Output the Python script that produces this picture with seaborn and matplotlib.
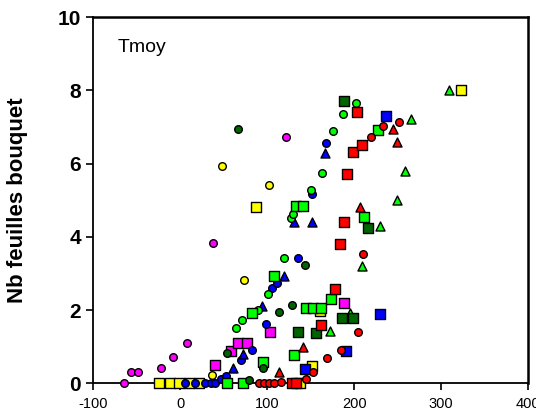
import matplotlib
matplotlib.use("Agg")
import matplotlib.pyplot as plt
import seaborn as sns
import pandas as pd

# ---------------- data (x = Tmoy sum, y = Nb feuilles bouquet) ----------------
magenta_circ_x = [-64.5, -57, -48.4, -21.8, -8.4, 8.2, 37.4, 121.7]
magenta_circ_y = [0, 0.31, 0.31, 0.41, 0.71, 1.11, 3.83, 6.73]
magenta_sq_x = [39.7, 57.9, 66.3, 76.7, 103.5, 188.3]
magenta_sq_y = [0.5, 0.88, 1.09, 1.09, 1.39, 2.18]

yellow_sq_x = [-24, -12, -1, 10.5, 21.2, 137.7, 152, 160.6, 87, 322.5]
yellow_sq_y = [0, 0, 0, 0, 0, 0, 0.48, 1.97, 4.82, 8.0]
yellow_circ_x = [36.6, 73.2, 48.2, 102.4]
yellow_circ_y = [0.22, 2.82, 5.94, 5.41]

blue_circ_x = [5, 17, 29, 35, 40.5, 47, 53, 70.5, 82.8, 98.6, 105.3, 110.8, 135.5, 152, 168]
blue_circ_y = [0, 0, 0, 0, 0, 0.12, 0.19, 0.63, 0.9, 1.62, 2.61, 2.73, 3.43, 5.16, 6.55]
blue_tri_x = [61.2, 72.6, 94.3, 119.2, 131, 152, 166.7]
blue_tri_y = [0.42, 0.8, 2.1, 2.92, 4.4, 4.4, 6.28]
blue_sq_x = [143.5, 190.6, 230, 236.8]
blue_sq_y = [0.4, 0.89, 1.89, 7.3]

green_circ_x = [64.7, 71.3, 89.5, 101.2, 119.8, 127.8, 129.8, 151, 163.6, 176.3, 186.7, 202]
green_circ_y = [1.52, 1.73, 2.0, 2.43, 3.43, 4.52, 4.62, 5.27, 5.73, 6.89, 7.34, 7.64]
green_sq_x = [54, 72.2, 95, 82.8, 107.5, 131.3, 133.5, 141.8, 144.5, 152.5, 162.5, 173.3, 211.5, 228]
green_sq_y = [0, 0, 0.59, 1.93, 2.92, 0.78, 4.84, 4.84, 2.05, 2.05, 2.06, 2.29, 4.53, 6.91]
green_tri_x = [172.5, 195.6, 208.7, 229.5, 249, 259, 266, 309]
green_tri_y = [1.42, 1.92, 3.2, 4.3, 5.0, 5.79, 7.22, 8.02]

dkgreen_circ_x = [54, 79, 95.8, 113.5, 128.4, 144, 66.3]
dkgreen_circ_y = [0.83, 0.1, 0.43, 1.94, 2.13, 3.23, 6.93]
dkgreen_sq_x = [135.6, 156.5, 185.6, 198.3, 215.6, 188]
dkgreen_sq_y = [1.39, 1.38, 1.78, 1.78, 4.24, 7.7]

red_circ_x = [90.5, 96.3, 102, 108, 115.6, 144.5, 153.2, 168.3, 184.8, 204, 209.8, 219.5, 233, 252]
red_circ_y = [0, 0, 0, 0, 0.03, 0.13, 0.31, 0.70, 0.92, 1.41, 3.53, 6.73, 7.03, 7.14]
red_sq_x = [129, 133, 161.8, 178, 183.7, 188, 191.8, 198.7, 209, 203]
red_sq_y = [0, 0, 1.58, 2.57, 3.80, 4.39, 5.71, 6.31, 6.51, 7.41]
red_tri_x = [114, 141.3, 206.4, 245, 249]
red_tri_y = [0.31, 1.0, 4.81, 6.93, 6.59]

x_ticks = [-100, 0, 100, 200, 300, 400]
y_ticks = [0, 2, 4, 6, 8, 10]

series = [
    ("magenta", "o", magenta_circ_x, magenta_circ_y),
    ("magenta", "s", magenta_sq_x, magenta_sq_y),
    ("yellow", "o", yellow_circ_x, yellow_circ_y),
    ("yellow", "s", yellow_sq_x, yellow_sq_y),
    ("blue", "o", blue_circ_x, blue_circ_y),
    ("blue", "^", blue_tri_x, blue_tri_y),
    ("blue", "s", blue_sq_x, blue_sq_y),
    ("lime", "o", green_circ_x, green_circ_y),
    ("lime", "s", green_sq_x, green_sq_y),
    ("lime", "^", green_tri_x, green_tri_y),
    ("dkgreen", "o", dkgreen_circ_x, dkgreen_circ_y),
    ("dkgreen", "s", dkgreen_sq_x, dkgreen_sq_y),
    ("red", "o", red_circ_x, red_circ_y),
    ("red", "s", red_sq_x, red_sq_y),
    ("red", "^", red_tri_x, red_tri_y),
]
colors = {"magenta": "#FF00FF", "yellow": "#FFFF00", "blue": "#0000FF",
          "lime": "#00FF00", "dkgreen": "#006400", "red": "#FF0000"}
sizes = {"o": 30, "s": 52, "^": 42}

sns.set_style("ticks")
plt.rcParams["font.family"] = ["Liberation Sans", "DejaVu Sans"]
plt.rcParams["text.color"] = "black"
plt.rcParams["axes.labelcolor"] = "black"
plt.rcParams["xtick.color"] = "black"
plt.rcParams["ytick.color"] = "black"

fig = plt.figure(figsize=(5.36, 4.15), dpi=100)
ax = fig.add_axes([0.174, 0.0764, 0.811, 0.8826])

for col, mk, xs, ys in series:
    df = pd.DataFrame({"x": xs, "y": ys})
    sns.scatterplot(data=df, x="x", y="y", ax=ax, marker=mk, s=sizes[mk],
                    color=colors[col], edgecolor="black", linewidth=1.0,
                    zorder=3, clip_on=False, legend=False)

ax.set_xlim(-100, 400)
ax.set_ylim(0, 10)
ax.set_xticks(x_ticks)
ax.set_yticks(y_ticks)
ax.set_xticklabels([str(t) for t in x_ticks], fontsize=10.5, color="black")
ax.set_yticklabels([str(t) for t in y_ticks], fontsize=15, fontweight="bold",
                   color="black")
ax.tick_params(axis="both", direction="out", length=5, width=1.2, colors="black")
ax.tick_params(axis="y", pad=4)
ax.tick_params(axis="x", pad=5)
for side in ["left", "bottom"]:
    ax.spines[side].set_linewidth(1.3)
for side in ["top", "right"]:
    ax.spines[side].set_visible(True)
    ax.spines[side].set_linewidth(1.8)
for s in ax.spines.values():
    s.set_color("black")

ax.set_xlabel("")
ax.set_ylabel("Nb feuilles bouquet", fontsize=16, fontweight="bold", color="black")
ax.yaxis.set_label_coords(-0.15, 0.5)

ax.text(0.057, 0.918, "Tmoy", transform=ax.transAxes, fontsize=14,
        ha="left", va="center", color="black")

fig.savefig("out.png", dpi=100)
